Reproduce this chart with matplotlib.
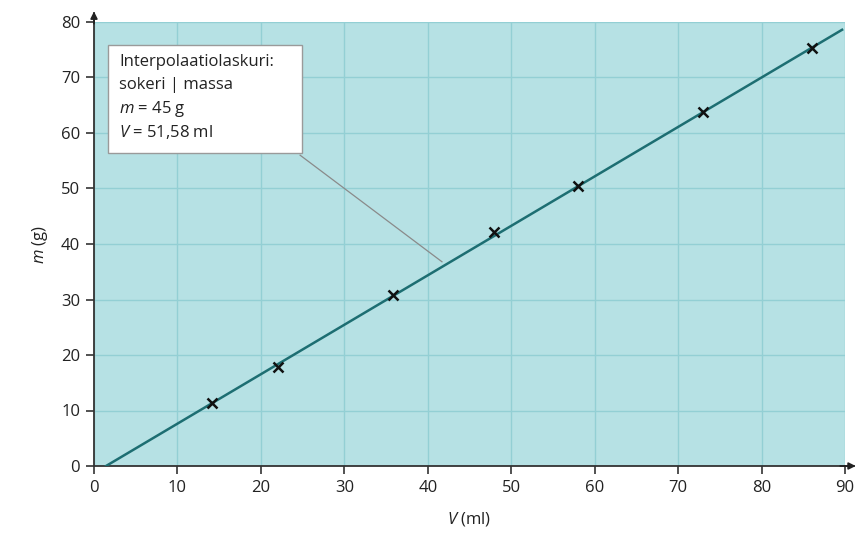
import matplotlib
matplotlib.use("Agg")
import matplotlib.pyplot as plt
from matplotlib.patches import Rectangle

plt.rcParams['font.family'] = ['Open Sans', 'DejaVu Sans']
plt.rcParams['mathtext.fontset'] = 'custom'
plt.rcParams['mathtext.it'] = 'Open Sans:italic'
plt.rcParams['mathtext.rm'] = 'Open Sans'

# data
V_points = [14.2, 22.0, 35.8, 47.9, 58.0, 73.0, 86.0]
m_points = [11.4, 17.9, 30.8, 42.2, 50.5, 63.8, 75.4]
line_V = [1.44, 89.65]
line_m = [0.0, 78.6]
x_ticks = [0, 10, 20, 30, 40, 50, 60, 70, 80, 90]
y_ticks = [0, 10, 20, 30, 40, 50, 60, 70, 80]
box_lines = ["Interpolaatiolaskuri:", "sokeri | massa", "$m$ = 45 g", "$V$ = 51,58 ml"]
leader_V = [24.7, 41.7]
leader_m = [56.0, 36.8]

fig = plt.figure(figsize=(8.67, 5.38), dpi=100)
ax = fig.add_axes([94/867, (538-466)/538, (845-94)/867, (466-22)/538])
ax.set_facecolor('#b6e1e4')
ax.set_xlim(0, 90)
ax.set_ylim(0, 80)
ax.set_xticks(x_ticks)
ax.set_yticks(y_ticks)
ax.grid(True, color='#93cfd4', lw=1.0)
ax.set_axisbelow(True)
for s in ['top', 'right']:
    ax.spines[s].set_visible(False)
for s in ['left', 'bottom']:
    ax.spines[s].set_color('#333333')
    ax.spines[s].set_linewidth(1.3)
ax.tick_params(length=6, width=1.2, color='#333333', labelsize=12, labelcolor='#222222', pad=4)

# axis arrows
ax.annotate('', xy=(1.018, 0), xytext=(0.99, 0), xycoords='axes fraction',
            arrowprops=dict(arrowstyle='-|>', color='#222222', lw=1.3, mutation_scale=10), annotation_clip=False)
ax.annotate('', xy=(0, 1.03), xytext=(0, 0.99), xycoords='axes fraction',
            arrowprops=dict(arrowstyle='-|>', color='#222222', lw=1.3, mutation_scale=10), annotation_clip=False)
ax.plot([1, 1.012], [0, 0], transform=ax.transAxes, color='#333333', lw=1.3, clip_on=False)
ax.plot([0, 0], [1, 1.02], transform=ax.transAxes, color='#333333', lw=1.3, clip_on=False)

ax.plot(line_V, line_m, color='#1d6e72', lw=1.8, zorder=3)
ax.plot(V_points, m_points, 'x', color='#111111', ms=7, mew=1.8, zorder=4)

ax.plot(leader_V, leader_m, color='#8a8a8a', lw=0.9, zorder=3)
ax.add_patch(Rectangle((1.68, 56.4), 24.9-1.68, 75.9-56.4, facecolor='white',
                       edgecolor='#9a9a9a', lw=1.0, zorder=5))
ys = [72.8, 68.6, 64.4, 60.2]
for t, y in zip(box_lines, ys):
    ax.text(3.0, y, t, fontsize=12, color='#222222', va='center', ha='left', zorder=6)

ax.set_xlabel('$V$ (ml)', fontsize=12, color='#222222', labelpad=10)
ax.set_ylabel('$m$ (g)', fontsize=12, color='#222222', labelpad=8)

fig.savefig('out.png', dpi=100)
